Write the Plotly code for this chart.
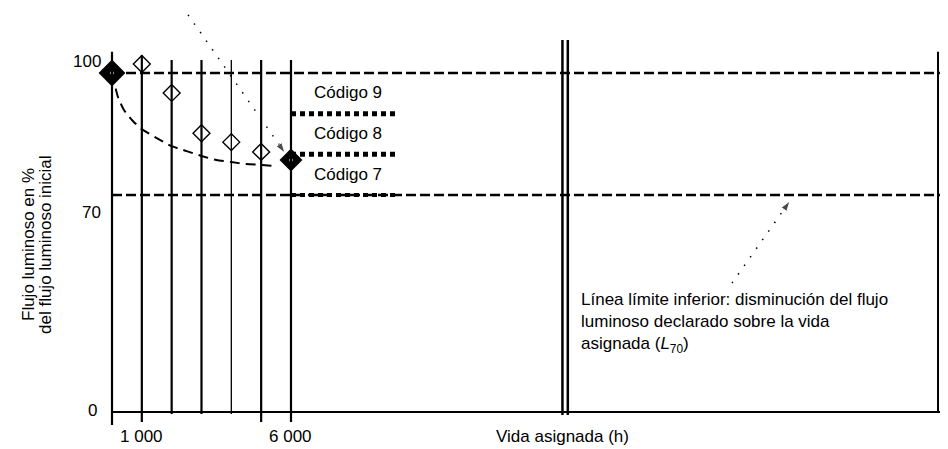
import plotly.graph_objects as go

# ---------------- data ----------------
mark_hours = [0, 1000, 2000, 3000, 4000, 5000, 6000]
mark_flux = [100, 102.2, 95.1, 85.2, 83.0, 80.6, 78.6]
filled_idx = [0, 6]          # initial and 6 000 h measurements (solid diamonds)

curve_hours = [0, 200, 400, 700, 1000, 1500, 2000, 2500, 3000, 3500, 4000, 4500, 5000, 5500]
curve_flux = [100, 94.1, 90.9, 88.2, 86.2, 84.0, 82.0, 80.8, 79.6, 78.6, 78.1, 77.6, 77.4, 77.1]

code_labels = ["Código 9", "Código 8", "Código 7"]
code_levels = [90, 80, 70]
code_from, code_to = 6000, 9500

ref_levels = [100, 70]
y_tick_vals = [100, 70, 0]
y_tick_text = ["100", "70", "0"]
x_tick_vals = [1000, 6000]
x_tick_text = ["1 000", "6 000"]

grid_hours = [0, 1000, 2000, 3000, 4000, 5000, 6000]
grid_tops = [105.2, 104.4, 103.2, 103.2, 103.2, 103.2, 103.2]
rated_life_lines = [15100, 15280]
end_line = 27690
x_end = 28293

arrow1_hours = [2550, 5800]
arrow1_flux = [114.3, 80.3]
arrow2_hours = [20785, 22729]
arrow2_flux = [41.6, 68.1]

# ------------- broken (schematic) y scale -------------
LOW_SPAN = 217.0   # 0..70 %
HIGH_SPAN = 122.0  # 70..100 %


def yu(v):
    if v <= 70:
        return v * LOW_SPAN / 70.0
    return LOW_SPAN + (v - 70) * HIGH_SPAN / 30.0


FONT = dict(family="Liberation Sans, Arial, sans-serif", size=17, color="black")

fig = go.Figure()

# vertical grid lines (measurement times)
tick_len = {0: 13, 1000: 10, 5000: 10, 6000: 10}
for h, top in zip(grid_hours, grid_tops):
    w = 1.3 if h == 4000 else 2.2
    fig.add_shape(type="line", xref="x", yref="y", x0=h, x1=h,
                  y0=yu(0) - tick_len.get(h, 2), y1=yu(top),
                  line=dict(color="black", width=w))

# rated life double line and right boundary
for h in rated_life_lines:
    fig.add_shape(type="line", xref="x", yref="y", x0=h, x1=h,
                  y0=yu(0) - 3, y1=yu(108.1), line=dict(color="black", width=2.5))
fig.add_shape(type="line", xref="x", yref="y", x0=end_line, x1=end_line,
              y0=yu(0), y1=yu(105.2), line=dict(color="black", width=2))

# x axis line
fig.add_shape(type="line", xref="x", yref="y", x0=0, x1=x_end, y0=yu(0), y1=yu(0),
              line=dict(color="black", width=2.2))

# reference dashed lines 100 % and 70 %
for lv in ref_levels:
    fig.add_trace(go.Scatter(x=[0, x_end], y=[yu(lv), yu(lv)], mode="lines",
                             line=dict(color="black", width=2.5, dash="10px,4px"),
                             hoverinfo="skip", showlegend=False))

# code lines
for lbl, lv in zip(code_labels, code_levels):
    fig.add_trace(go.Scatter(x=[code_from, code_to], y=[yu(lv), yu(lv)], mode="lines",
                             line=dict(color="black", width=5 if lv > 70 else 4,
                                       dash="5px,4px"),
                             hoverinfo="skip", showlegend=False))
    fig.add_annotation(x=code_from + 700, y=yu(lv), text=lbl, showarrow=False,
                       xanchor="left", yanchor="middle", yshift=21, font=FONT)

# dashed decay curve
fig.add_trace(go.Scatter(x=curve_hours, y=[yu(v) for v in curve_flux], mode="lines",
                         line=dict(color="black", width=2, dash="10px,6px",
                                   shape="spline", smoothing=0.6),
                         hoverinfo="skip", showlegend=False))

# hollow (measured) diamonds
hollow = [i for i in range(len(mark_hours)) if i not in filled_idx]
fig.add_trace(go.Scatter(x=[mark_hours[i] for i in hollow],
                         y=[yu(mark_flux[i]) for i in hollow], mode="markers",
                         marker=dict(symbol="diamond", size=13, color="white",
                                     line=dict(color="black", width=1.4)),
                         hoverinfo="skip", showlegend=False))

# filled diamonds
fx = [mark_hours[i] for i in filled_idx]
fy = [yu(mark_flux[i]) for i in filled_idx]
fig.add_trace(go.Scatter(x=fx, y=fy, mode="markers", opacity=1,
                         marker=dict(symbol="diamond", size=[19, 16], color="#000000",
                                     opacity=1, line=dict(color="#000000", width=1.5)),
                         cliponaxis=False, hoverinfo="skip", showlegend=False))
fig.add_trace(go.Scatter(x=fx, y=fy, mode="markers",
                         marker=dict(symbol="circle", size=3.5, color="white"),
                         hoverinfo="skip", showlegend=False))

# dotted arrows
for ax_h, ax_f in [(arrow1_hours, arrow1_flux), (arrow2_hours, arrow2_flux)]:
    fig.add_trace(go.Scatter(x=ax_h, y=[yu(v) for v in ax_f], mode="lines+markers",
                             line=dict(color="black", width=1.5, dash="1.5px,9px"),
                             marker=dict(symbol="arrow", size=[1, 11], color="black",
                                         angleref="previous"),
                             hoverinfo="skip", showlegend=False))

# y tick labels
y_shifts = {100: 12, 70: -17, 0: 2}
x_shifts = {100: -9, 70: -9, 0: -13}
for v, t in zip(y_tick_vals, y_tick_text):
    fig.add_annotation(x=0, y=yu(v), text=t, showarrow=False, xanchor="right",
                       yanchor="middle", xshift=x_shifts[v], yshift=y_shifts[v], font=FONT)

# x tick labels
for h, t in zip(x_tick_vals, x_tick_text):
    fig.add_annotation(x=h, y=yu(0), text=t, showarrow=False, xanchor="center",
                       yanchor="middle", yshift=-24, font=FONT)

fig.add_annotation(x=rated_life_lines[0], y=yu(0), text="Vida asignada (h)",
                   showarrow=False, xanchor="center", yanchor="middle", yshift=-24, font=FONT)

# y axis title (two lines)
fig.add_annotation(x=-2816, y=167, text="Flujo luminoso en %", textangle=-90,
                   showarrow=False, xanchor="center", yanchor="middle", font=FONT)
fig.add_annotation(x=-2246, y=167, text="del flujo luminoso inicial", textangle=-90,
                   showarrow=False, xanchor="center", yanchor="middle", font=FONT)

# lower-limit explanation
fig.add_annotation(x=15650, y=yu(0) + 89,
                   text="Línea límite inferior: disminución del flujo<br>"
                        "luminoso declarado sobre la vida<br>"
                        "asignada (<i>L</i><sub>70</sub>)",
                   showarrow=False, xanchor="left", yanchor="middle", align="left",
                   font=FONT)

# figure is placed 8 px from the page corner by the browser's default body margin
fig.update_layout(
    width=948, height=449,
    margin=dict(l=0, r=0, t=0, b=0),
    paper_bgcolor="white", plot_bgcolor="white",
    xaxis=dict(range=[-3486.4, x_end], visible=False),
    yaxis=dict(range=[-45, 404], visible=False),
    showlegend=False,
)

fig.write_html("out.html")
